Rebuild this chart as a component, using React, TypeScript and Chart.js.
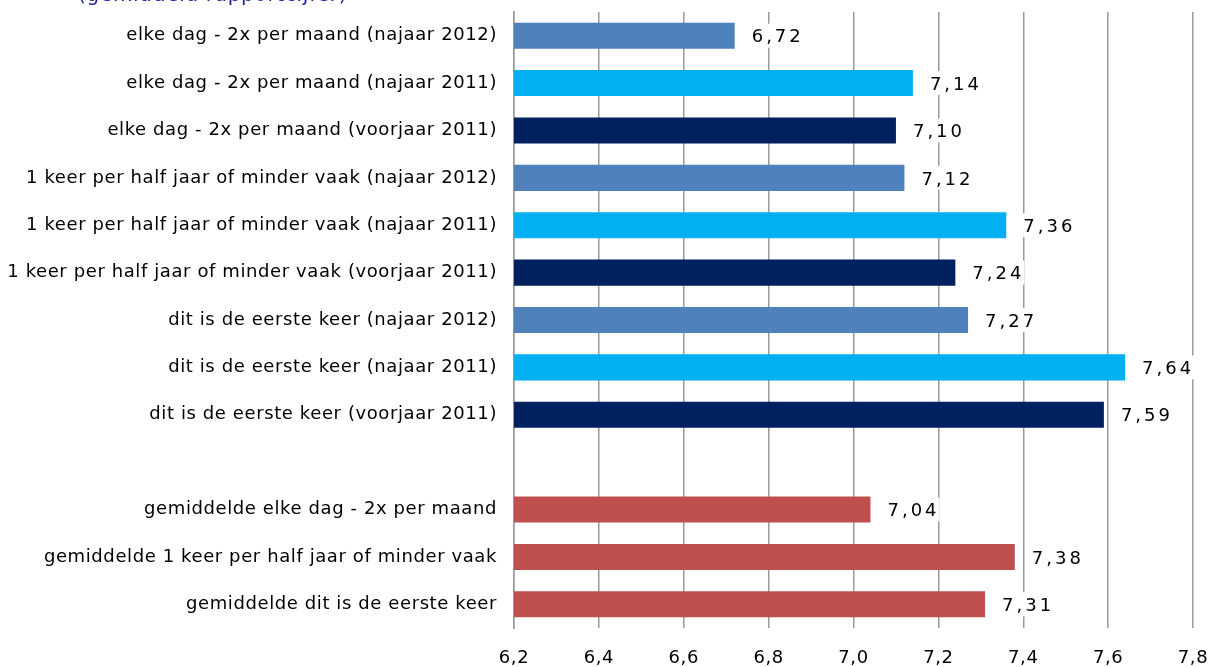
import React, { useEffect, useRef } from 'react';
import { Chart, registerables } from 'chart.js';
Chart.register(...registerables);

const titleText = '(gemiddeld rapportcijfer)';

const categories = [
  'elke dag - 2x per maand (najaar 2012)',
  'elke dag - 2x per maand (najaar 2011)',
  'elke dag - 2x per maand (voorjaar 2011)',
  '1 keer per half jaar of minder vaak (najaar 2012)',
  '1 keer per half jaar of minder vaak (najaar 2011)',
  '1 keer per half jaar of minder vaak (voorjaar 2011)',
  'dit is de eerste keer (najaar 2012)',
  'dit is de eerste keer (najaar 2011)',
  'dit is de eerste keer (voorjaar 2011)',
  '',
  'gemiddelde elke dag - 2x per maand',
  'gemiddelde 1 keer per half jaar of minder vaak',
  'gemiddelde dit is de eerste keer',
];

const values: (number | null)[] = [6.72, 7.14, 7.1, 7.12, 7.36, 7.24, 7.27, 7.64, 7.59, null, 7.04, 7.38, 7.31];

const barColors = [
  '#4F81BD', '#00B0F0', '#002060',
  '#4F81BD', '#00B0F0', '#002060',
  '#4F81BD', '#00B0F0', '#002060',
  '#FFFFFF',
  '#C0504D', '#C0504D', '#C0504D',
];

const axisMin = 6.2;
const axisMax = 7.8;
const axisStep = 0.2;

const FONT = '"DejaVu Sans", Verdana, sans-serif';
const fmt = (v: number, d: number) => v.toFixed(d).replace('.', ',');

const spacingPlugin = {
  id: 'spacing',
  beforeDraw(chart: any) {
    chart.ctx.letterSpacing = '0.6px';
  },
};

const labelPlugin = {
  id: 'valueLabels',
  afterDatasetsDraw(chart: any) {
    const ctx = chart.ctx;
    const meta = chart.getDatasetMeta(0);
    ctx.save();
    ctx.font = `18px ${FONT}`;
    (ctx as any).letterSpacing = '3px';
    ctx.textBaseline = 'middle';
    ctx.textAlign = 'left';
    meta.data.forEach((bar: any, i: number) => {
      const v = values[i];
      if (v == null) return;
      const txt = fmt(v, 2);
      const w = ctx.measureText(txt).width;
      const x0 = bar.x + 17;
      ctx.fillStyle = '#ffffff';
      ctx.fillRect(x0 - 4, bar.y - 12, w + 4, 24);
      ctx.fillStyle = '#000000';
      ctx.fillText(txt, x0, bar.y + 2);
    });
    ctx.restore();
  },
  afterDraw(chart: any) {
    const ctx = chart.ctx;
    ctx.save();
    ctx.font = `20px ${FONT}`;
    (ctx as any).letterSpacing = '0.7px';
    ctx.fillStyle = '#1F1F9C';
    ctx.textBaseline = 'alphabetic';
    ctx.textAlign = 'left';
    ctx.fillText(titleText, 78, 1);
    ctx.restore();
  },
};

export default function App() {
  const ref = useRef<HTMLCanvasElement>(null);
  useEffect(() => {
    document.body.style.margin = '0';
    const chart = new Chart(ref.current!, {
      type: 'bar',
      data: {
        labels: categories,
        datasets: [
          {
            data: values as any,
            backgroundColor: barColors,
            barPercentage: 0.55,
            categoryPercentage: 1,
          },
        ],
      },
      options: {
        indexAxis: 'y',
        responsive: false,
        animation: false,
        layout: { padding: 0 },
        plugins: { legend: { display: false }, tooltip: { enabled: false } },
        scales: {
          x: {
            min: axisMin,
            max: axisMax,
            grid: { color: '#9a9a9a', lineWidth: 1.5, drawTicks: false },
            border: { display: false },
            ticks: {
              stepSize: axisStep,
              padding: 20,
              color: '#000000',
              font: { family: FONT, size: 18 },
              callback: (v: any) => fmt(Number(v), 1),
            },
            afterFit: (s: any) => {
              s.height = 39;
              s.paddingRight = 21;
              s.paddingLeft = 0;
            },
          },
          y: {
            grid: { display: false, drawTicks: false },
            border: { display: true, color: '#9a9a9a', width: 1.5 },
            ticks: {
              padding: 17,
              color: '#000000',
              font: { family: FONT, size: 18 },
              autoSkip: false,
            },
            afterFit: (s: any) => {
              s.width = 514;
              s.paddingTop = 12;
              s.paddingBottom = 0;
            },
          },
        },
      },
      plugins: [spacingPlugin, labelPlugin],
    });
    return () => chart.destroy();
  }, []);
  return <canvas ref={ref} width={1214} height={667} style={{ display: 'block' }} />;
}
